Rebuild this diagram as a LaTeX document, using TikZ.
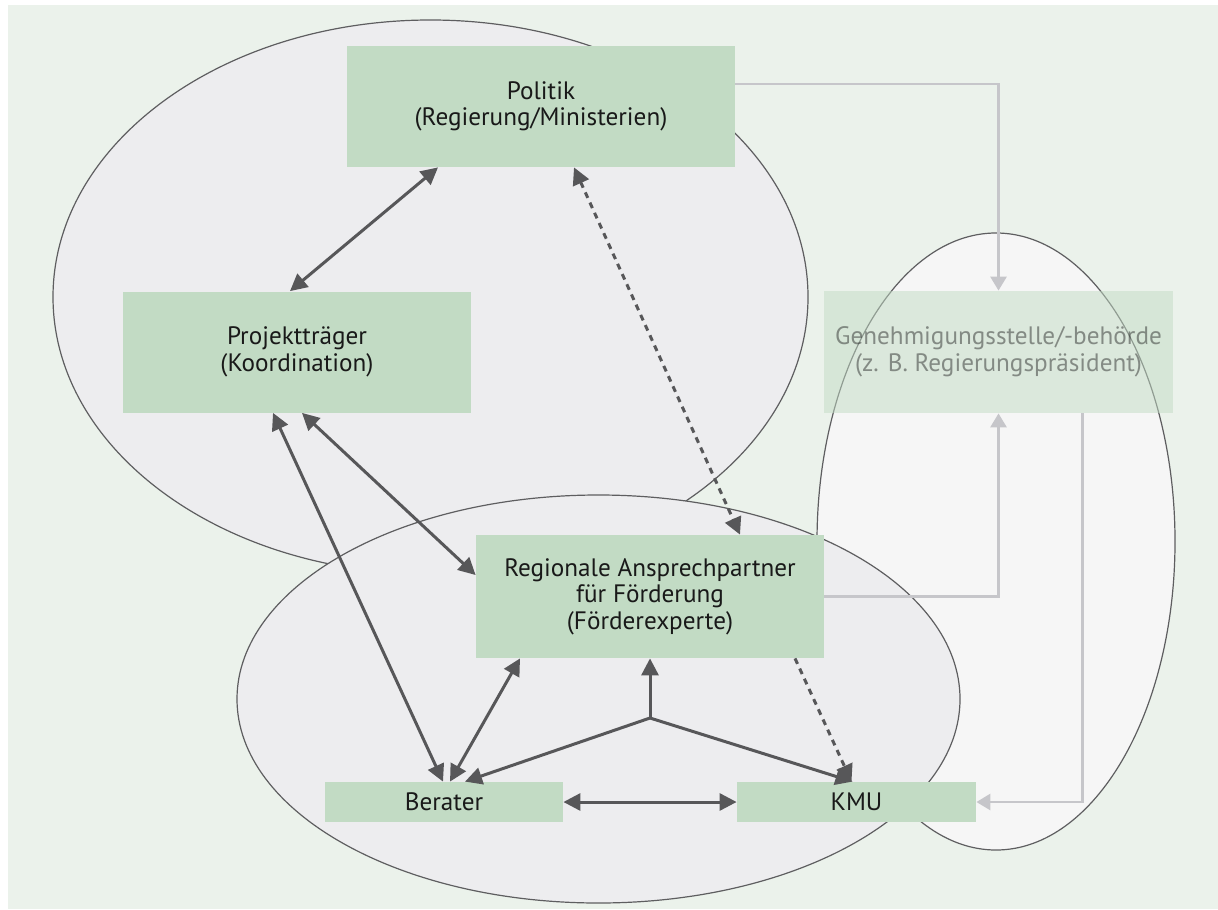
\documentclass[tikz,border=0pt]{standalone}
\usepackage{fontspec}
\setmainfont{PT Sans}
\usetikzlibrary{arrows.meta}
\definecolor{bggreen}{HTML}{EBF2EB}
\definecolor{boxgreen}{HTML}{C2DBC4}
\definecolor{cloudgray}{HTML}{EDEDEF}
\definecolor{cloudlight}{HTML}{F6F6F6}
\definecolor{rimgray}{HTML}{5E5E60}
\definecolor{darkline}{HTML}{575759}
\definecolor{paleline}{HTML}{C6C6CA}
\tikzset{
  box/.style={fill=boxgreen, inner sep=0pt, align=center, text=black!90,
    font=\fontsize{12.6}{13.3}\selectfont},
  cloud/.style={draw=rimgray, line width=0.6pt},
  link/.style={draw=darkline, line width=1.5pt,
    {Triangle[length=8.5pt,width=8.5pt]}-{Triangle[length=8.5pt,width=8.5pt]}},
  onelink/.style={draw=darkline, line width=1.5pt, -{Triangle[length=8.5pt,width=8.5pt]}},
  dashlink/.style={link, dash pattern=on 3pt off 2.6pt},
  dashonelink/.style={onelink, dash pattern=on 3pt off 2.6pt},
  palelink/.style={draw=paleline, line width=1.4pt, -{Triangle[length=7pt,width=8pt]}}
}
\begin{document}
\begin{tikzpicture}[x=0.5pt,y=-0.5pt]
\useasboundingbox (0,0) rectangle (1218,909);
\fill[bggreen] (8,5) rectangle (1218,909);
% clouds
\filldraw[cloud, fill=cloudgray] (430.5,297) ellipse [x radius=377.5, y radius=277];
\filldraw[cloud, fill=cloudlight] (996,541.5) ellipse [x radius=179, y radius=308.5];
\filldraw[cloud, fill=cloudgray] (598.5,699) ellipse [x radius=361.5, y radius=204];
% boxes
\node[box, minimum width=194pt, minimum height=60.5pt] (politik) at (541,106.5) {Politik\\(Regierung/Ministerien)};
\node[box, minimum width=174pt, minimum height=60.5pt] (projekt) at (297,352) {Projektträger\\(Koordination)};
\node[box, minimum width=174.5pt, minimum height=61pt, fill opacity=0.5, text opacity=0.45] (genehm) at (998.5,352) {Genehmigungsstelle/-behörde\\(z. B. Regierungspräsident)};
\node[box, minimum width=174pt, minimum height=61.5pt] (regional) at (650,596.5) {Regionale Ansprechpartner\\für Förderung\\(Förderexperte)};
\node[box, minimum width=119pt, minimum height=20pt] (berater) at (444,802) {Berater};
\node[box, minimum width=119.5pt, minimum height=20pt] (kmu) at (856.5,802) {KMU};
\coordinate (hub) at (650,718);
% pale connectors
\draw[palelink] ([yshift=11.25pt]politik.east) -| (genehm.north);
\draw[palelink] (regional.east) -| (genehm.south);
\draw[palelink] ([xshift=42pt]genehm.south) |- (kmu.east);
% dark connectors
\draw[link] ([xshift=-51.5pt]politik.south) -- ([xshift=-3.5pt]projekt.north);
\draw[dashlink] ([xshift=16.5pt]politik.south) -- ([xshift=45pt]regional.north);
\draw[link] ([xshift=2.5pt]projekt.south) -- ([yshift=10.75pt]regional.west);
\draw[link] ([xshift=-12pt]projekt.south) -- ([xshift=-0.5pt]berater.north);
\draw[link] ([xshift=3pt]berater.north) -- ([xshift=-65pt]regional.south);
\draw[onelink] (hub) -- (regional.south);
\draw[onelink] (hub) -- ([xshift=10.5pt]berater.north);
\draw[onelink] (hub) -- ([xshift=-2pt]kmu.north);
\draw[dashonelink] ([xshift=72.5pt]regional.south) -- ([xshift=-2.5pt]kmu.north);
\draw[link] (berater.east) -- (kmu.west);
\end{tikzpicture}
\end{document}
